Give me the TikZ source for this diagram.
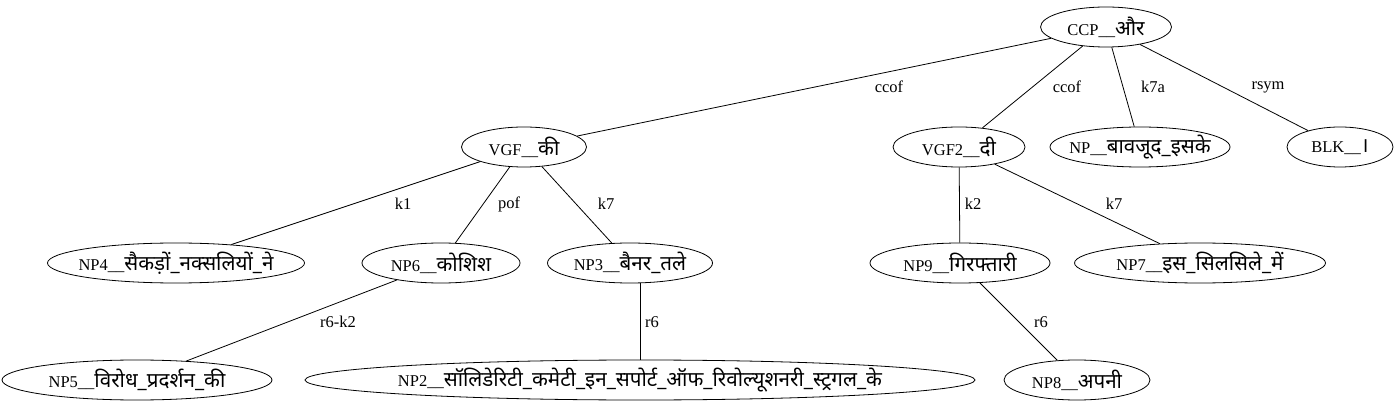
\documentclass[tikz,border=0pt]{standalone}
\usepackage{fontspec}
\setmainfont{Liberation Serif}
\newfontfamily\dv[Script=Devanagari,Scale=1.25]{Noto Sans}
\usetikzlibrary{shapes.geometric}
\newcommand{\lb}[1]{\makebox[0pt][c]{#1}}
\begin{document}
\begin{tikzpicture}[x=1pt,y=-1pt,
  nd/.style={draw,ellipse,inner sep=0pt,minimum height=40pt,line width=0.8pt,font=\fontsize{16.5}{18}\selectfont},
  elbl/.style={inner sep=0pt,font=\fontsize{16.5}{18}\selectfont},
  edge/.style={line width=0.8pt}]
\useasboundingbox (0,0) rectangle (1399,411);

% the nodes, rank by rank
\node[nd,minimum width=131pt] (ccp) at (1106,27) {\lb{CCP\_\_{\dv और}}};

\node[nd,minimum width=125pt] (vgf) at (524,147) {\lb{VGF\_\_{\dv की}}};
\node[nd,minimum width=132pt] (vgftwo) at (959,147) {\lb{VGF2\_\_{\dv दी}}};
\node[nd,minimum width=180pt] (npbv) at (1140,147) {\lb{NP\_\_{\dv बावजूद\_इसके}}};
\node[nd,minimum width=106pt] (blk) at (1340,147) {\lb{BLK\_\_{\dv ।}}};

\node[nd,minimum width=257pt] (npfour) at (176,263) {\lb{NP4\_\_{\dv सैकड़ों\_नक्सलियों\_ने}}};
\node[nd,minimum width=158pt] (npsix) at (441,263) {\lb{NP6\_\_{\dv कोशिश}}};
\node[nd,minimum width=165pt] (npthree) at (630,263) {\lb{NP3\_\_{\dv बैनर\_तले}}};
\node[nd,minimum width=180pt] (npnine) at (960,263) {\lb{NP9\_\_{\dv गिरफ्तारी}}};
\node[nd,minimum width=251pt] (npseven) at (1200,263) {\lb{NP7\_\_{\dv इस\_सिलसिले\_में}}};

\node[nd,minimum width=270pt] (npfive) at (137,380) {\lb{NP5\_\_{\dv विरोध\_प्रदर्शन\_की}}};
\node[nd,minimum width=670pt] (nptwo) at (640,380) {\lb{NP2\_\_{\dv सॉलिडेरिटी\_कमेटी\_इन\_सपोर्ट\_ऑफ\_रिवोल्यूशनरी\_स्ट्रगल\_के}}};
\node[nd,minimum width=146pt] (npeight) at (1077,380) {\lb{NP8\_\_{\dv अपनी}}};

% the edges
\draw[edge] (ccp) -- (vgf);
\draw[edge] (ccp) -- (vgftwo);
\draw[edge] (ccp) -- (npbv);
\draw[edge] (ccp) -- (blk);
\draw[edge] (vgf) -- (npfour);
\draw[edge] (vgf) -- (npsix);
\draw[edge] (vgf) -- (npthree);
\draw[edge] (vgftwo) -- (npnine);
\draw[edge] (vgftwo) -- (npseven);
\draw[edge] (npsix) -- (npfive);
\draw[edge] (npthree.south -| nptwo.north) -- (nptwo);
\draw[edge] (npnine) -- (npeight);

% edge labels
\node[elbl] (lccofa) at (889,87) {ccof};
\node[elbl] (lccofb) at (1067,87) {ccof};
\node[elbl] (lksa) at (1153,87) {k7a};
\node[elbl] (lrsym) at (1268,87) {rsym};
\node[elbl] (lkone) at (403,204) {k1};
\node[elbl] (lpof) at (509,204) {pof};
\node[elbl] (lksevena) at (606,204) {k7};
\node[elbl] (lktwo) at (973,204) {k2};
\node[elbl] (lksevenb) at (1114,204) {k7};
\node[elbl] (lrk) at (338,322) {r6-k2};
\node[elbl] (lrsixa) at (652,322) {r6};
\node[elbl] (lrsixb) at (1041,322) {r6};
\end{tikzpicture}
\end{document}
